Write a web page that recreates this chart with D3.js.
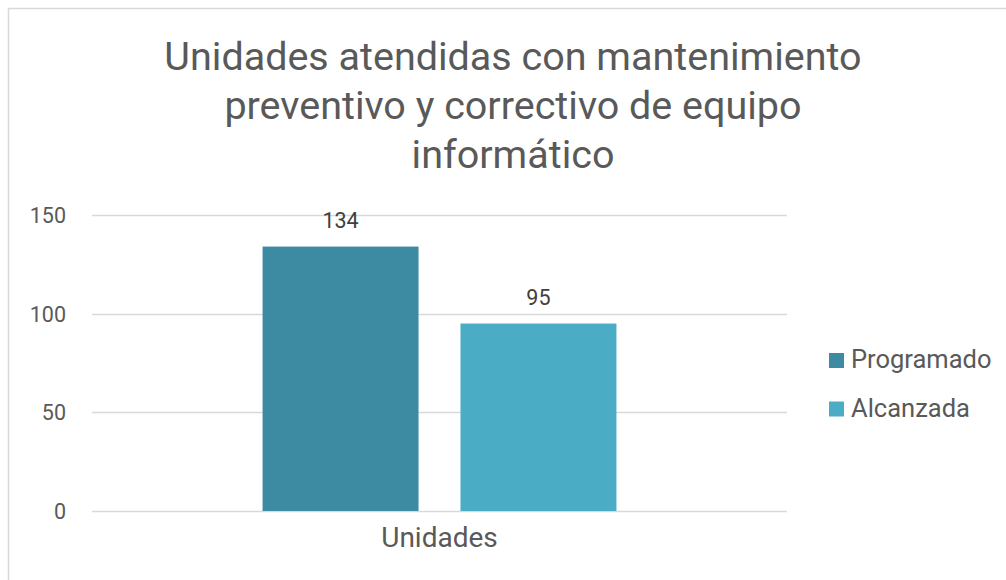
<!DOCTYPE html>
<html>
<head>
<meta charset="utf-8">
<script src="https://cdn.jsdelivr.net/npm/d3@7"></script>
<style>
  body { margin: 0; background: #fff; }
  text { font-family: Roboto, "Noto Sans", sans-serif; }
</style>
</head>
<body>
<svg width="1006" height="580"></svg>
<script>
// chart data
var categories = ["Unidades"];
var seriesNames = ["Programado", "Alcanzada"];
var seriesValues = [134, 95];
var seriesColors = ["#3c8ba2", "#4bacc6"];
var yTicks = [0, 50, 100, 150];
var titleLines = ["Unidades atendidas con mantenimiento", "preventivo y correctivo de equipo", "informático"];

var svg = d3.select("svg");

// chart frame
svg.append("rect")
    .attr("x", 8.5)
    .attr("y", 8.5)
    .attr("width", 1010)
    .attr("height", 600)
    .attr("fill", "#fff")
    .attr("stroke", "#d9d9d9")
    .attr("stroke-width", 1.5);

var plot = { left: 92, right: 787, top: 215, bottom: 511 };

var y = d3.scaleLinear()
    .domain([0, 150])
    .range([plot.bottom, plot.top]);

var x0 = d3.scaleBand()
    .domain(categories)
    .range([plot.left, plot.right])
    .paddingOuter(0.482);

var x1 = d3.scaleBand()
    .domain(seriesNames)
    .range([0, x0.bandwidth()])
    .paddingInner(0.212);

// gridlines
svg.append("g")
    .selectAll("line")
    .data(yTicks)
    .enter().append("line")
    .attr("x1", plot.left)
    .attr("x2", plot.right)
    .attr("y1", function(d) { return Math.round(y(d)) + 0.5; })
    .attr("y2", function(d) { return Math.round(y(d)) + 0.5; })
    .attr("stroke", "#d9d9d9")
    .attr("stroke-width", 1.3);

// y axis labels
var yAxis = svg.append("g")
    .attr("transform", "translate(" + (plot.left - 26) + ",0)")
    .call(d3.axisLeft(y).tickValues(yTicks).tickSize(0).tickPadding(0));
yAxis.select(".domain").remove();
yAxis.selectAll("text")
    .attr("font-family", "Roboto")
    .attr("font-size", 21.5)
    .attr("fill", "#595959")
    .attr("dy", "0.35em");

// bars
var group = svg.append("g")
    .attr("transform", "translate(" + x0(categories[0]) + ",0)");

group.selectAll("rect")
    .data(seriesValues)
    .enter().append("rect")
    .attr("x", function(d, i) { return x1(seriesNames[i]); })
    .attr("y", function(d) { return y(d); })
    .attr("width", x1.bandwidth())
    .attr("height", function(d) { return y(0) - y(d); })
    .attr("fill", function(d, i) { return seriesColors[i]; });

group.selectAll("text.val")
    .data(seriesValues)
    .enter().append("text")
    .attr("class", "val")
    .attr("x", function(d, i) { return x1(seriesNames[i]) + x1.bandwidth() / 2; })
    .attr("y", function(d) { return y(d) - 19; })
    .attr("text-anchor", "middle")
    .attr("font-size", 21.5)
    .attr("fill", "#404040")
    .text(function(d) { return d; });

// x axis label
var xAxis = svg.append("g")
    .attr("transform", "translate(0," + (plot.bottom + 16) + ")")
    .call(d3.axisBottom(x0).tickSize(0).tickPadding(0));
xAxis.select(".domain").remove();
xAxis.selectAll("text")
    .attr("font-family", "Roboto")
    .attr("font-size", 28)
    .attr("fill", "#595959")
    .attr("dy", "0.71em");

// title
svg.append("g")
    .selectAll("text")
    .data(titleLines)
    .enter().append("text")
    .attr("x", 513)
    .attr("y", function(d, i) { return 70 + i * 49; })
    .attr("text-anchor", "middle")
    .attr("font-size", 39.5)
    .attr("fill", "#595959")
    .text(function(d) { return d; });

// legend
var legend = svg.append("g")
    .selectAll("g")
    .data(seriesNames)
    .enter().append("g")
    .attr("transform", function(d, i) { return "translate(829," + (353 + i * 48.5) + ")"; });

legend.append("rect")
    .attr("width", 15)
    .attr("height", 15)
    .attr("fill", function(d, i) { return seriesColors[i]; });

legend.append("text")
    .attr("x", 22)
    .attr("y", 15)
    .attr("font-size", 25.5)
    .attr("fill", "#595959")
    .text(function(d) { return d; });
</script>
</body>
</html>
